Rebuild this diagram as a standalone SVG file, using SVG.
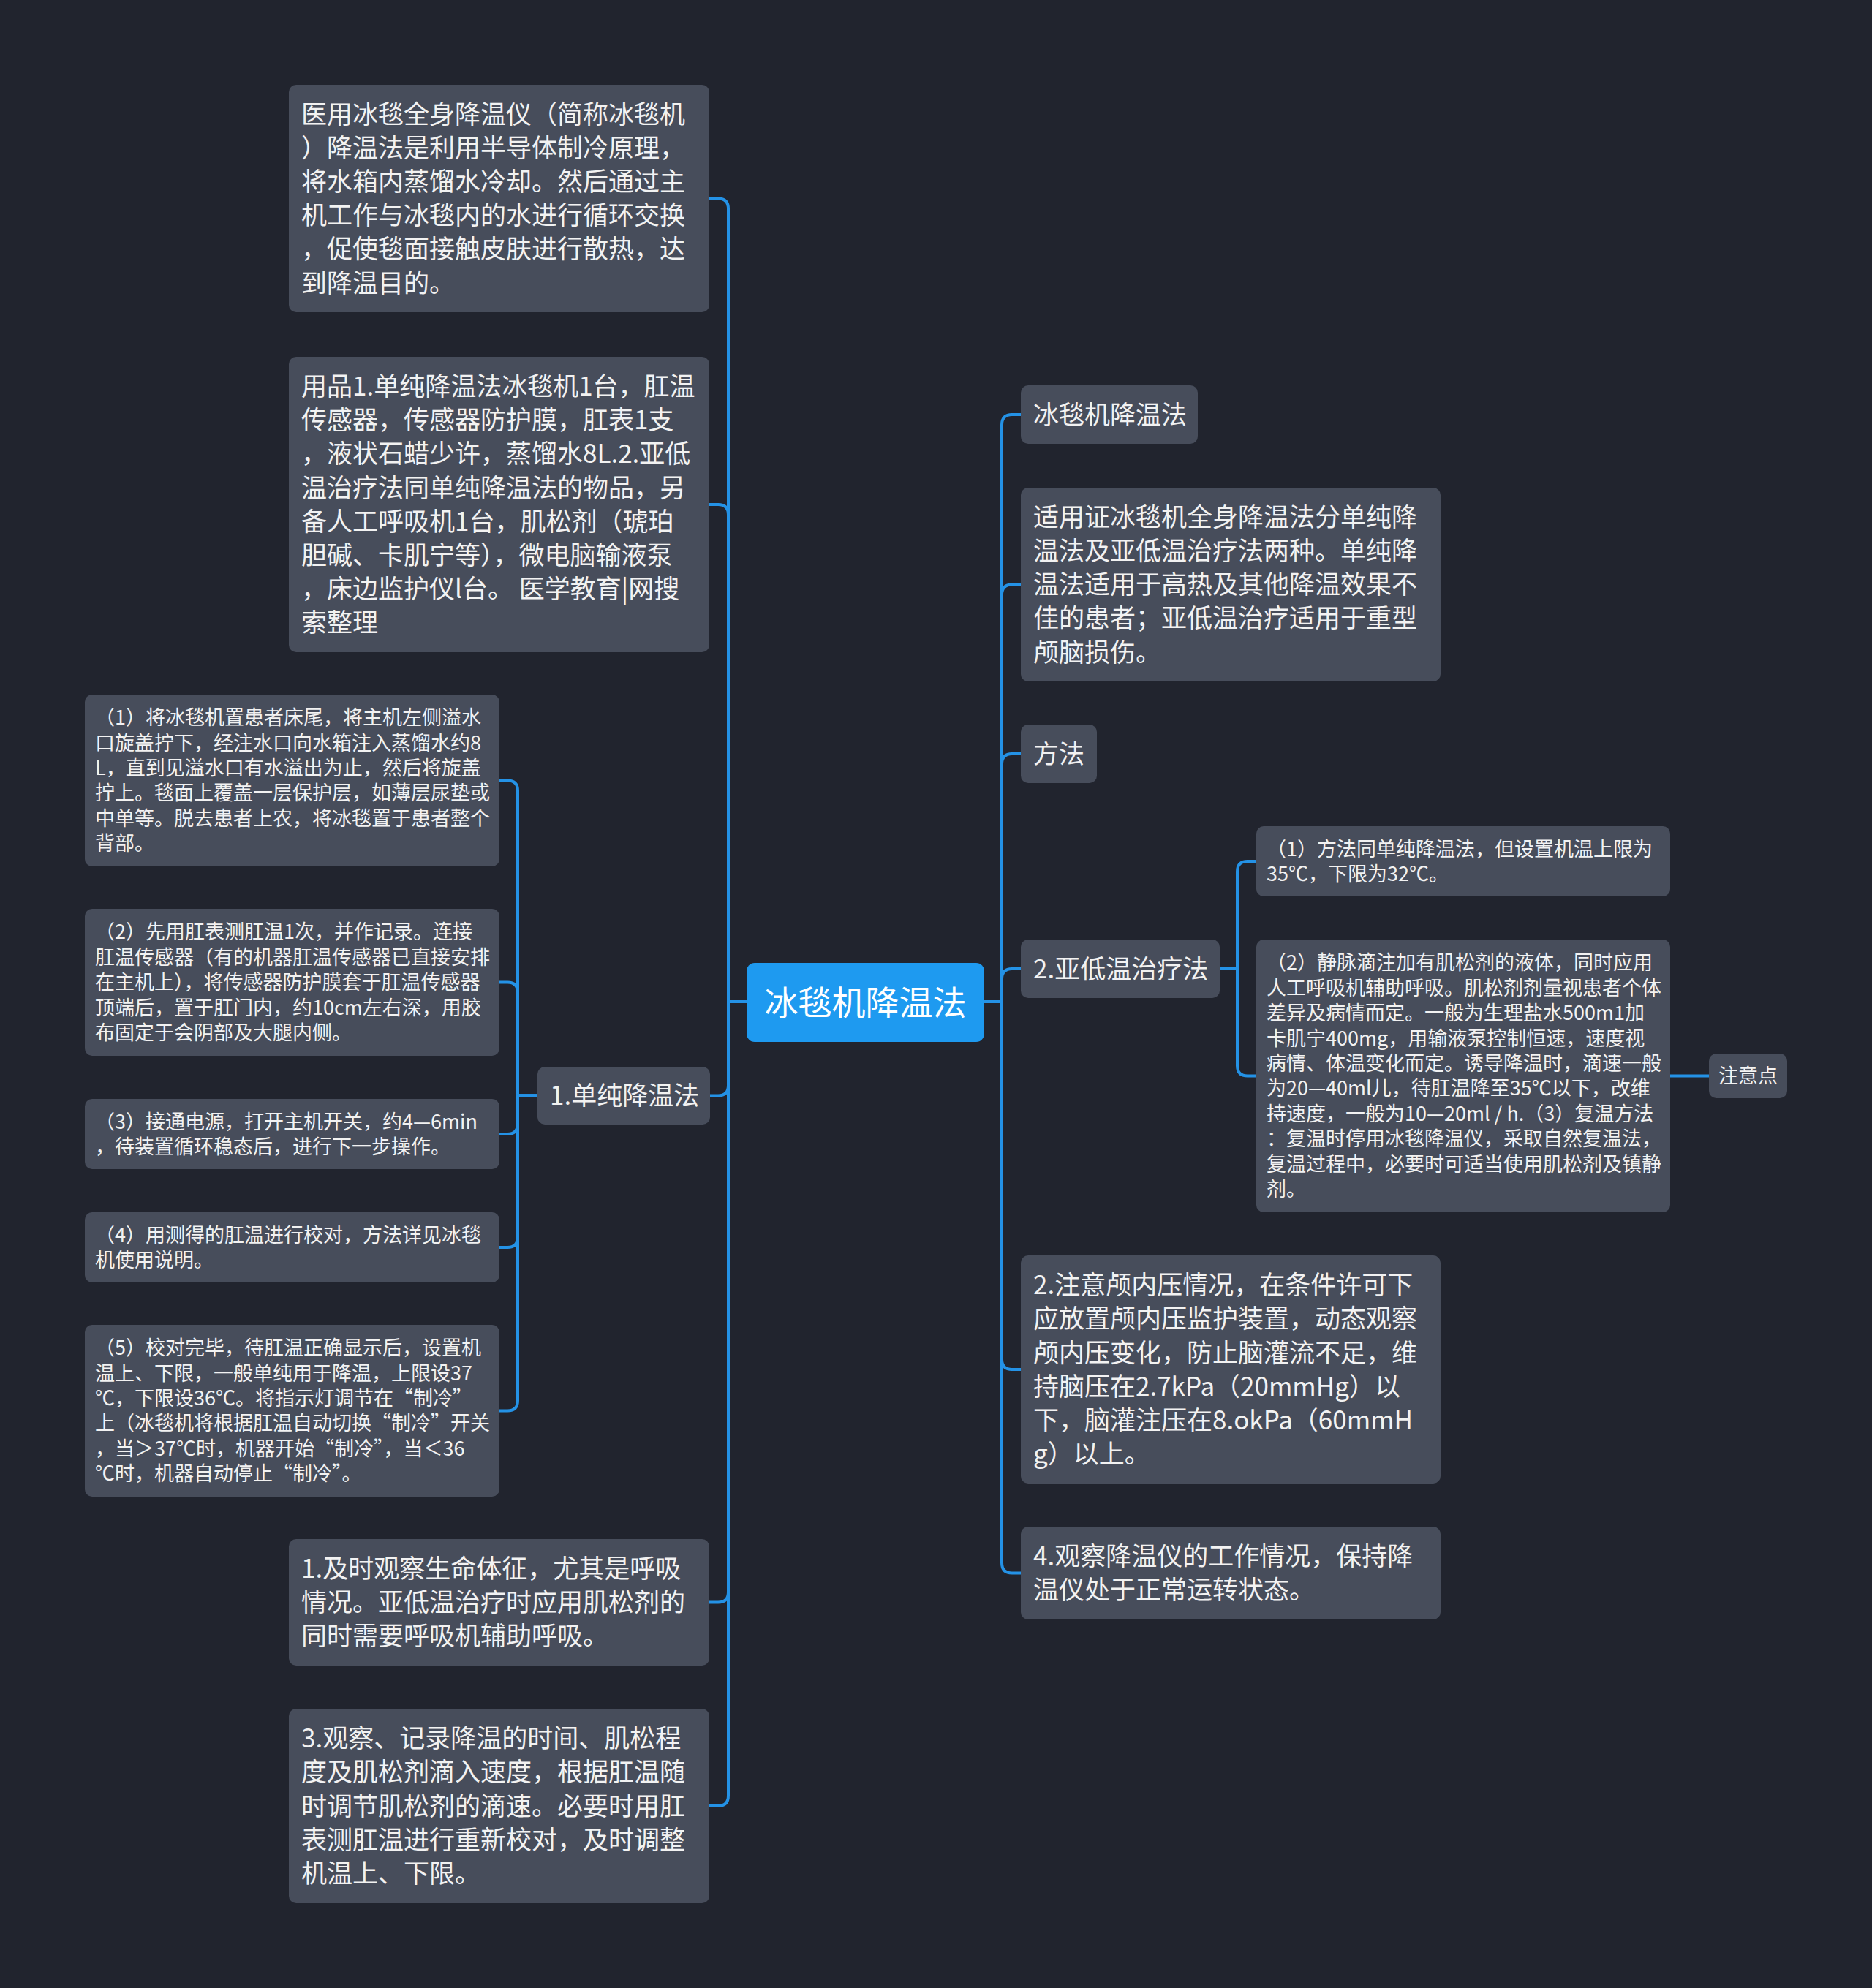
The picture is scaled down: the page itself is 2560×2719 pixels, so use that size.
<svg xmlns="http://www.w3.org/2000/svg" width="2560" height="2719" viewBox="0 0 2560 2719">
<style>
.bg{fill:#21242e}
.n{fill:#474d5b}
.root{fill:#1e9af0}
.t{font-family:"Noto Sans CJK SC","Microsoft YaHei",sans-serif;fill:#f2f2f2}
.L{font-size:35px}
.S{font-size:27px}
.R{font-size:46px;fill:#ffffff}
.c{fill:none;stroke:#2492e6;stroke-width:4;stroke-linecap:round;stroke-linejoin:round}
</style>
<rect class="bg" x="0" y="0" width="2560" height="2719"/>

<g id="connectors">
<!-- root to left -->
<path class="c" d="M1021 1370 H996 V285.5 Q996 271.5 982 271.5 H970"/>
<path class="c" d="M1021 1370 H996 V704 Q996 690 982 690 H970"/>
<path class="c" d="M1021 1370 H996 V1484.5 Q996 1498.5 982 1498.5 H971"/>
<path class="c" d="M1021 1370 H996 V2177.5 Q996 2191.5 982 2191.5 H970"/>
<path class="c" d="M1021 1370 H996 V2456 Q996 2470 982 2470 H970"/>
<!-- root to right -->
<path class="c" d="M1346 1370 H1370 V581 Q1370 567 1384 567 H1396"/>
<path class="c" d="M1346 1370 H1370 V813.5 Q1370 799.5 1384 799.5 H1396"/>
<path class="c" d="M1346 1370 H1370 V1045 Q1370 1031 1384 1031 H1396"/>
<path class="c" d="M1346 1370 H1370 V1339 Q1370 1325 1384 1325 H1396"/>
<path class="c" d="M1346 1370 H1370 V1859 Q1370 1873 1384 1873 H1396"/>
<path class="c" d="M1346 1370 H1370 V2137.5 Q1370 2151.5 1384 2151.5 H1396"/>
<!-- 1.单纯降温法 children -->
<path class="c" d="M735 1498.5 H708 V1081.5 Q708 1067.5 694 1067.5 H683"/>
<path class="c" d="M735 1498.5 H708 V1357.5 Q708 1343.5 694 1343.5 H683"/>
<path class="c" d="M735 1498.5 H708 V1537 Q708 1551 694 1551 H683"/>
<path class="c" d="M735 1498.5 H708 V1692 Q708 1706 694 1706 H683"/>
<path class="c" d="M735 1498.5 H708 V1915.5 Q708 1929.5 694 1929.5 H683"/>
<!-- 2.亚低温治疗法 children -->
<path class="c" d="M1668 1325 H1692 V1192 Q1692 1178 1706 1178 H1718"/>
<path class="c" d="M1668 1325 H1692 V1457.5 Q1692 1471.5 1706 1471.5 H1718"/>
<!-- to 注意点 -->
<path class="c" d="M2284 1471.5 H2337"/>
</g>

<g id="root">
<rect class="root" x="1021" y="1317" width="325" height="108" rx="11"/>
<text class="t R" x="1183.5" y="1387.6" text-anchor="middle">冰毯机降温法</text>
</g>

<g id="nodeA">
<rect class="n" x="395" y="116" width="575" height="311" rx="10"/>
<text class="t L" x="412">
<tspan x="412" y="168.6">医用冰毯全身降温仪（简称冰毯机</tspan>
<tspan x="412" y="214.8">）降温法是利用半导体制冷原理，</tspan>
<tspan x="412" y="261">将水箱内蒸馏水冷却。然后通过主</tspan>
<tspan x="412" y="307.2">机工作与冰毯内的水进行循环交换</tspan>
<tspan x="412" y="353.4">，促使毯面接触皮肤进行散热，达</tspan>
<tspan x="412" y="399.6">到降温目的。</tspan>
</text>
</g>

<g id="nodeB">
<rect class="n" x="395" y="488" width="575" height="404" rx="10"/>
<text class="t L">
<tspan x="412" y="540.9">用品1.单纯降温法冰毯机1台，肛温</tspan>
<tspan x="412" y="587.1">传感器，传感器防护膜，肛表1支</tspan>
<tspan x="412" y="633.3">，液状石蜡少许，蒸馏水8L.2.亚低</tspan>
<tspan x="412" y="679.5">温治疗法同单纯降温法的物品，另</tspan>
<tspan x="412" y="725.7">备人工呼吸机1台，肌松剂（琥珀</tspan>
<tspan x="412" y="771.9">胆碱、卡肌宁等），微电脑输液泵</tspan>
<tspan x="412" y="818.1">，床边监护仪l台。 医学教育|网搜</tspan>
<tspan x="412" y="864.3">索整理</tspan>
</text>
</g>

<g id="nodeL1">
<rect class="n" x="735" y="1459" width="236" height="79" rx="10"/>
<text class="t L" x="752" y="1511">1.单纯降温法</text>
</g>

<g id="nodeC1">
<rect class="n" x="116" y="950" width="567" height="235" rx="10"/>
<text class="t S">
<tspan x="130" y="991.2">（1）将冰毯机置患者床尾，将主机左侧溢水</tspan>
<tspan x="130" y="1025.6">口旋盖拧下，经注水口向水箱注入蒸馏水约8</tspan>
<tspan x="130" y="1060">L，直到见溢水口有水溢出为止，然后将旋盖</tspan>
<tspan x="130" y="1094.4">拧上。毯面上覆盖一层保护层，如薄层尿垫或</tspan>
<tspan x="130" y="1128.8">中单等。脱去患者上农，将冰毯置于患者整个</tspan>
<tspan x="130" y="1163.2">背部。</tspan>
</text>
</g>

<g id="nodeC2">
<rect class="n" x="116" y="1243" width="567" height="201" rx="10"/>
<text class="t S">
<tspan x="130" y="1284.4">（2）先用肛表测肛温1次，并作记录。连接</tspan>
<tspan x="130" y="1318.8">肛温传感器（有的机器肛温传感器已直接安排</tspan>
<tspan x="130" y="1353.2">在主机上），将传感器防护膜套于肛温传感器</tspan>
<tspan x="130" y="1387.6">顶端后，置于肛门内，约10cm左右深，用胶</tspan>
<tspan x="130" y="1422">布固定于会阴部及大腿内侧。</tspan>
</text>
</g>

<g id="nodeC3">
<rect class="n" x="116" y="1503" width="567" height="96" rx="10"/>
<text class="t S">
<tspan x="130" y="1543.5">（3）接通电源，打开主机开关，约4—6min</tspan>
<tspan x="130" y="1577.9">，待装置循环稳态后，进行下一步操作。</tspan>
</text>
</g>

<g id="nodeC4">
<rect class="n" x="116" y="1658" width="567" height="96" rx="10"/>
<text class="t S">
<tspan x="130" y="1698.5">（4）用测得的肛温进行校对，方法详见冰毯</tspan>
<tspan x="130" y="1732.9">机使用说明。</tspan>
</text>
</g>

<g id="nodeC5">
<rect class="n" x="116" y="1812" width="567" height="235" rx="10"/>
<text class="t S">
<tspan x="130" y="1853.2">（5）校对完毕，待肛温正确显示后，设置机</tspan>
<tspan x="130" y="1887.6">温上、下限，一般单纯用于降温，上限设37</tspan>
<tspan x="130" y="1922">℃，下限设36℃。将指示灯调节在“制冷”</tspan>
<tspan x="130" y="1956.4">上（冰毯机将根据肛温自动切换“制冷”开关</tspan>
<tspan x="130" y="1990.8">，当＞37℃时，机器开始“制冷”，当＜36</tspan>
<tspan x="130" y="2025.2">℃时，机器自动停止“制冷”。</tspan>
</text>
</g>

<g id="nodeD">
<rect class="n" x="395" y="2105" width="575" height="173" rx="10"/>
<text class="t L">
<tspan x="412" y="2157.9">1.及时观察生命体征，尤其是呼吸</tspan>
<tspan x="412" y="2204.1">情况。亚低温治疗时应用肌松剂的</tspan>
<tspan x="412" y="2250.3">同时需要呼吸机辅助呼吸。</tspan>
</text>
</g>

<g id="nodeE">
<rect class="n" x="395" y="2337" width="575" height="266" rx="10"/>
<text class="t L">
<tspan x="412" y="2390.2">3.观察、记录降温的时间、肌松程</tspan>
<tspan x="412" y="2436.4">度及肌松剂滴入速度，根据肛温随</tspan>
<tspan x="412" y="2482.6">时调节肌松剂的滴速。必要时用肛</tspan>
<tspan x="412" y="2528.8">表测肛温进行重新校对，及时调整</tspan>
<tspan x="412" y="2575">机温上、下限。</tspan>
</text>
</g>

<g id="nodeR1">
<rect class="n" x="1396" y="527" width="242" height="80" rx="10"/>
<text class="t L" x="1413" y="579.6">冰毯机降温法</text>
</g>

<g id="nodeR2">
<rect class="n" x="1396" y="667" width="574" height="265" rx="10"/>
<text class="t L">
<tspan x="1413" y="719.7">适用证冰毯机全身降温法分单纯降</tspan>
<tspan x="1413" y="765.9">温法及亚低温治疗法两种。单纯降</tspan>
<tspan x="1413" y="812.1">温法适用于高热及其他降温效果不</tspan>
<tspan x="1413" y="858.3">佳的患者；亚低温治疗适用于重型</tspan>
<tspan x="1413" y="904.5">颅脑损伤。</tspan>
</text>
</g>

<g id="nodeR3">
<rect class="n" x="1396" y="991" width="104" height="80" rx="10"/>
<text class="t L" x="1413" y="1043.6">方法</text>
</g>

<g id="nodeR4">
<rect class="n" x="1396" y="1285" width="272" height="80" rx="10"/>
<text class="t L" x="1413" y="1337.6">2.亚低温治疗法</text>
</g>

<g id="nodeS1">
<rect class="n" x="1718" y="1130" width="566" height="96" rx="10"/>
<text class="t S">
<tspan x="1732" y="1170.5">（1）方法同单纯降温法，但设置机温上限为</tspan>
<tspan x="1732" y="1204.9">35℃，下限为32℃。</tspan>
</text>
</g>

<g id="nodeS2">
<rect class="n" x="1718" y="1285" width="566" height="373" rx="10"/>
<text class="t S">
<tspan x="1732" y="1326.4">（2）静脉滴注加有肌松剂的液体，同时应用</tspan>
<tspan x="1732" y="1360.8">人工呼吸机辅助呼吸。肌松剂剂量视患者个体</tspan>
<tspan x="1732" y="1395.2">差异及病情而定。一般为生理盐水500m1加</tspan>
<tspan x="1732" y="1429.6">卡肌宁400mg，用输液泵控制恒速，速度视</tspan>
<tspan x="1732" y="1464">病情、体温变化而定。诱导降温时，滴速一般</tspan>
<tspan x="1732" y="1498.4">为20—40ml儿，待肛温降至35℃以下，改维</tspan>
<tspan x="1732" y="1532.8">持速度，一般为10—20ml / h.（3）复温方法</tspan>
<tspan x="1732" y="1567.2">：复温时停用冰毯降温仪，采取自然复温法，</tspan>
<tspan x="1732" y="1601.6">复温过程中，必要时可适当使用肌松剂及镇静</tspan>
<tspan x="1732" y="1636">剂。</tspan>
</text>
</g>

<g id="nodeNote">
<rect class="n" x="2337" y="1441" width="107" height="61" rx="10"/>
<text class="t S" x="2390.5" y="1481.2" text-anchor="middle">注意点</text>
</g>

<g id="nodeR5">
<rect class="n" x="1396" y="1717" width="574" height="312" rx="10"/>
<text class="t L">
<tspan x="1413" y="1770.1">2.注意颅内压情况，在条件许可下</tspan>
<tspan x="1413" y="1816.3">应放置颅内压监护装置，动态观察</tspan>
<tspan x="1413" y="1862.5">颅内压变化，防止脑灌流不足，维</tspan>
<tspan x="1413" y="1908.7">持脑压在2.7kPa（20mmHg）以</tspan>
<tspan x="1413" y="1954.9">下，脑灌注压在8.okPa（60mmH</tspan>
<tspan x="1413" y="2001.1">g）以上。</tspan>
</text>
</g>

<g id="nodeR6">
<rect class="n" x="1396" y="2088" width="574" height="127" rx="10"/>
<text class="t L">
<tspan x="1413" y="2141">4.观察降温仪的工作情况，保持降</tspan>
<tspan x="1413" y="2187.2">温仪处于正常运转状态。</tspan>
</text>
</g>
</svg>
